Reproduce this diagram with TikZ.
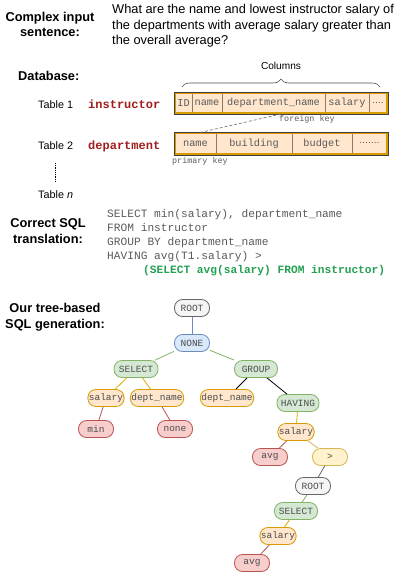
\documentclass[tikz,border=0pt]{standalone}
\usepackage{fontspec}
\setmainfont{Liberation Sans}
\setmonofont{Liberation Mono}
\usetikzlibrary{decorations.pathreplacing}
\definecolor{keyred}{HTML}{A31C1C}
\definecolor{sqlgreen}{HTML}{23A052}
\definecolor{codegray}{HTML}{5A5A5A}
\definecolor{cellfill}{HTML}{FFE6CC}
\definecolor{cellline}{HTML}{8C7A5C}
\definecolor{orgline}{HTML}{D79B00}
\definecolor{grayfill}{HTML}{F5F5F5}
\definecolor{grayline}{HTML}{666666}
\definecolor{bluefill}{HTML}{DAE8FC}
\definecolor{blueline}{HTML}{6C8EBF}
\definecolor{greenfill}{HTML}{D5E8D4}
\definecolor{greenline}{HTML}{82B366}
\definecolor{redfill}{HTML}{F8CECC}
\definecolor{redline}{HTML}{B85450}
\definecolor{yellowfill}{HTML}{FFF2CC}
\definecolor{yellowline}{HTML}{D6B656}
\definecolor{edgeorange}{HTML}{E0A800}
\begin{document}
\begin{tikzpicture}[x=1pt,y=-1pt,
  lbl/.style={font=\fontsize{12.8}{15.5}\selectfont\bfseries, align=center, inner sep=0pt},
  plain/.style={font=\fontsize{12.8}{15.5}\selectfont, align=left, inner sep=0pt},
  tbl/.style={font=\fontsize{10.8}{13}\selectfont, inner sep=0pt, anchor=base west},
  tname/.style={font=\fontsize{12}{14}\selectfont\ttfamily\bfseries, text=keyred, inner sep=0pt, anchor=base west},
  cell/.style={draw=cellline, fill=cellfill, line width=0.6pt, minimum height=20pt, inner sep=0pt, outer sep=0pt, anchor=west, text=codegray, font=\fontsize{10.3}{12}\selectfont\ttfamily},
  dots/.style={font=\fontsize{10.3}{12}\selectfont\sffamily, text=black!85},
  tblbox/.style={draw=orgline, line width=1.6pt},
  tblboxin/.style={draw=black!75, line width=0.6pt},
  note/.style={font=\fontsize{8.4}{10}\selectfont\ttfamily, text=codegray, inner sep=0pt, anchor=base west},
  code/.style={font=\fontsize{11.2}{14}\selectfont\ttfamily, text=codegray, align=left, inner sep=0pt, anchor=base west},
  tn/.style={rounded corners=8pt, minimum height=17pt, minimum width=35pt, inner xsep=1pt, inner ysep=0pt, line width=0.8pt, font=\fontsize{9.5}{11}\selectfont\ttfamily, text=black!70},
  tgray/.style={tn, draw=grayline, fill=grayfill},
  tblue/.style={tn, draw=blueline, fill=bluefill},
  tgreen/.style={tn, draw=greenline, fill=greenfill},
  torange/.style={tn, draw=orgline, fill=cellfill},
  tred/.style={tn, draw=redline, fill=redfill},
  tyellow/.style={tn, draw=yellowline, fill=yellowfill},
  e/.style={line width=0.8pt}
]
\useasboundingbox (0,0) rectangle (401,576);

% headings
\node[lbl, anchor=base] (lcomplex) at (50,36.7) {Complex input\\sentence:};
\node[plain, anchor=base west] (question) at (112,44.5) {What are the name and lowest instructor salary of\\the departments with average salary greater than\\the overall average?};
\node[lbl, anchor=base west] (ldb) at (18,80) {Database:};

% tables labels
\node[tbl] (t1) at (38,108.3) {Table 1};
\node[tbl] (t2) at (38,149) {Table 2};
\node[tbl] (tn) at (38,198) {Table \textit{n}};
\node[tname] (instr) at (88,108.3) {instructor};
\node[tname] (dept) at (88,149) {department};
\node[font=\fontsize{10.1}{12}\selectfont, inner sep=0pt, anchor=base] (cols) at (281,69.5) {Columns};
\draw[decorate, decoration={brace, amplitude=8pt, aspect=0.5}, line width=0.6pt, black!70] (182,87) -- (380,87);

% instructor table
\node[cell, minimum width=17pt] (i1) at (175,103) {ID};
\node[cell, minimum width=30pt] (i2) at (i1.east) {name};
\node[cell, minimum width=103pt] (i3) at (i2.east) {department\_name};
\node[cell, minimum width=44pt] (i4) at (i3.east) {salary};
\node[cell, minimum width=18pt, dots] (i5) at (i4.east) {....};
\draw[tblbox] (i1.north west) rectangle (i5.south east);
\draw[tblboxin] ([shift={(-0.8pt,0.8pt)}]i1.north west) rectangle ([shift={(0.8pt,-0.8pt)}]i5.south east);

% department table
\node[cell, minimum width=41pt, minimum height=21pt] (d1) at (175,143.5) {name};
\node[cell, minimum width=76pt, minimum height=21pt] (d2) at (d1.east) {building};
\node[cell, minimum width=60pt, minimum height=21pt] (d3) at (d2.east) {budget};
\node[cell, minimum width=35pt, minimum height=21pt, dots] (d4) at (d3.east) {.......};
\draw[tblbox] (d1.north west) rectangle (d4.south east);
\draw[tblboxin] ([shift={(-0.8pt,0.8pt)}]d1.north west) rectangle ([shift={(0.8pt,-0.8pt)}]d4.south east);

\node[note] (fk) at (279,121.5) {foreign key};
\node[note] (pk) at (172,163.5) {primary key};
\coordinate (fka) at (281,114);
\coordinate (pka) at (198,133);
\draw[densely dashed, black!60, line width=0.6pt] (fka) -- (pka);

\coordinate (vd1) at (55,163);
\coordinate (vd2) at (55,182);
\draw[densely dotted, line width=0.8pt] (vd1) -- (vd2);

% SQL
\node[lbl, anchor=base] (lsql) at (48,243.3) {Correct SQL\\translation:};
\node[code] (sql) at (107,259.7) {SELECT min(salary), department\_name\\FROM instructor\\GROUP BY department\_name\\HAVING avg(T1.salary) >};
\node[code, text=sqlgreen, font=\fontsize{11.2}{14}\selectfont\ttfamily\bfseries] (sub) at (143,273.7) {(SELECT avg(salary) FROM instructor)};

% tree
\node[lbl, anchor=base] (ltree) at (55,328) {Our tree-based\\SQL generation:};

\node[tgray] (root) at (192,308) {ROOT};
\node[tblue] (none) at (192,343) {NONE};
\node[tgreen, minimum width=44pt] (sel) at (136,369) {SELECT};
\node[tgreen, minimum width=43pt] (grp) at (256,369) {GROUP};
\node[torange] (sal1) at (106,398) {salary};
\node[torange, minimum width=51pt] (dn1) at (157,398) {dept\_name};
\node[torange, minimum width=52pt] (dn2) at (227,398) {dept\_name};
\node[tgreen, minimum width=42pt] (hav) at (298,403) {HAVING};
\node[tred] (min) at (96,429) {min};
\node[tred] (nn) at (175,429) {none};
\node[torange] (sal2) at (296,432) {salary};
\node[tred] (avg1) at (270,457) {avg};
\node[tyellow] (gt) at (330,457) {>};
\node[tgray] (root2) at (313,486) {ROOT};
\node[tgreen, minimum width=43pt] (sel2) at (296,511) {SELECT};
\node[torange] (sal3) at (278,536) {salary};
\node[tred] (avg2) at (252,563) {avg};

\draw[e, blueline] (root) -- (none);
\draw[e, greenline] (none) -- (sel);
\draw[e, greenline] (none) -- (grp);
\draw[e, edgeorange] (sel) -- (sal1);
\draw[e, edgeorange] (sel) -- (dn1);
\draw[e, black] (grp) -- (dn2);
\draw[e, black] (grp) -- (hav);
\draw[e, redline] (sal1) -- (min);
\draw[e, redline] (dn1) -- (nn);
\draw[e, edgeorange] (hav) -- (sal2);
\draw[e, redline] (sal2) -- (avg1);
\draw[e, yellowline] (sal2) -- (gt);
\draw[e, grayline] (gt) -- (root2);
\draw[e, greenline] (root2) -- (sel2);
\draw[e, edgeorange] (sel2) -- (sal3);
\draw[e, redline] (sal3) -- (avg2);
\end{tikzpicture}
\end{document}
